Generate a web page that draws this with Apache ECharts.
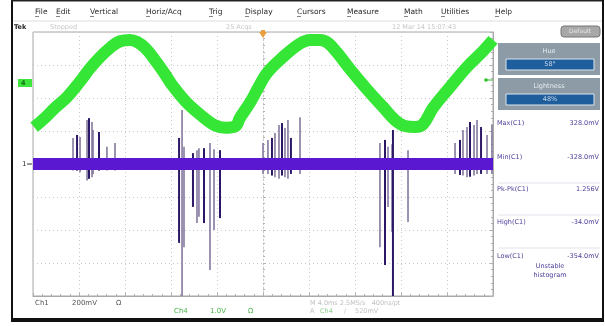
<!DOCTYPE html>
<html><head><meta charset="utf-8">
<script src="https://cdn.jsdelivr.net/npm/echarts@6/dist/echarts.min.js"></script>
<style>html,body{margin:0;padding:0;background:#fff;overflow:hidden}#c{width:605px;height:326px}</style>
</head><body><div id="c"></div>
<script>
// ---- data (time in ms, vertical in divisions) ----
const greenT = [-19.9,-18.96,-18.09,-17.04,-15.91,-15.04,-14.17,-13.3,-12.43,-11.57,-10.96,-10.26,-9.39,-8.52,-7.83,-6.61,-5.48,-4.87,-4.17,-3.30,-2.43,-2.0,-1.13,-0.43,0.35,1.74,3.22,4.09,4.96,5.65,6.43,7.57,9.04,10.43,11.48,12.35,13.22,13.91,14.78,16.26,17.74,19.13,20.0];
const greenY = [1.12,1.40,1.70,2.03,2.50,2.90,3.24,3.52,3.72,3.76,3.70,3.52,3.15,2.72,2.36,1.85,1.50,1.33,1.17,1.10,1.14,1.40,1.86,2.30,2.76,3.24,3.65,3.76,3.76,3.67,3.38,2.87,2.26,1.73,1.33,1.15,1.12,1.20,1.70,2.33,2.94,3.42,3.76];
const baseT = [-20, 20];
const baseY = [0, 0];
const spikeT = [-16.52,-16.17,-15.91,-15.30,-15.13,-14.87,-14.78,-14.26,-13.57,-12.87,
  -7.30,-7.04,-6.87,-6.09,-5.74,-5.57,-5.13,-4.61,-4.26,-3.74,
  0,0.43,0.78,1.04,1.39,1.65,1.91,2.17,2.43,3.22,
  10.17,10.61,10.87,11.22,11.30,12.61,
  16.70,17.13,17.39,17.74,18.0,18.35,18.61,18.96,19.48,19.91];
const spikeTop = [0.79,0.88,0.82,1.33,1.39,1.27,1.03,0.97,0.52,0.64,
  0.79,1.64,0.52,0.33,0.42,0.48,0.48,0.64,0.45,0.42,
  0.64,0.73,0.79,0.94,1.18,1.24,1.09,1.33,0.79,1.42,
  0.64,0.73,0.52,0.60,1.03,0.42,
  0.64,0.73,1.03,1.12,1.27,1.18,1.33,1.12,0.88,1.18];
const spikeBottom = [-0.2,-0.2,-0.25,-0.5,-0.45,-0.4,-0.3,-0.2,-0.2,-0.2,
  -2.39,-4.05,-2.52,-1.3,-1.79,-1.6,-1.79,-3.21,-2.0,-1.64,
  -0.3,-0.3,-0.35,-0.4,-0.45,-0.35,-0.4,-0.45,-0.3,-0.3,
  -2.52,-3.06,-1.3,-2.06,-4.05,-1.76,
  -0.3,-0.33,-0.35,-0.4,-0.39,-0.35,-0.3,-0.3,-0.3,-0.3];
const menuItems = ['File','Edit','Vertical','Horiz/Acq','Trig','Display','Cursors','Measure','Math','Utilities','Help'];
const measureNames = ['Max(C1)','Min(C1)','Pk-Pk(C1)','High(C1)','Low(C1)'];
const measureValues = ['328.0mV','-328.0mV','1.256V','-34.0mV','-354.0mV'];

// ---- layout helpers ----
const FONT = 'DejaVu Sans';
const menuX = [35,56,90,146,209,245,297,347,404,441,495];
const measY = [123,157,189,222,256];
function txt(x, y, s, color, size, extra) {
  return {type:'text', x:x, y:y, z:70,
    style:Object.assign({text:s, fill:color, fontSize:size||7, fontFamily:FONT, verticalAlign:'middle', align:'left'}, extra||{})};
}
const gfx = [];
// outer frame
gfx.push({type:'rect', shape:{x:11,y:0,width:2,height:322}, style:{fill:'#111'}, z:60});
gfx.push({type:'rect', shape:{x:11,y:0,width:593,height:1.5}, style:{fill:'#222'}, z:60});
gfx.push({type:'rect', shape:{x:602,y:0,width:2,height:322}, style:{fill:'#111'}, z:60});
gfx.push({type:'rect', shape:{x:11,y:318,width:593,height:4}, style:{fill:'#111'}, z:60});
// menu
menuItems.forEach((m,i)=>{
  gfx.push(txt(menuX[i], 12, m, '#2a2a2a', 7.5));
  gfx.push({type:'line', shape:{x1:menuX[i],y1:16.5,x2:menuX[i]+4,y2:16.5}, style:{stroke:'#333',lineWidth:0.6}, z:50});
});
gfx.push({type:'line', shape:{x1:13,y1:21,x2:602,y2:21}, style:{stroke:'#ddd',lineWidth:1}, z:40});
// status row
gfx.push(txt(14, 27, 'Tek', '#222', 6.5, {fontWeight:'bold'}));
gfx.push(txt(50, 27, 'Stopped', '#c6c6c6', 6.5));
gfx.push(txt(226, 27, '25 Acqs', '#c6c6c6', 6.5));
gfx.push(txt(392, 27, '12 Mar 14 15:07:43', '#c6c6c6', 6.5));
// trigger position marker
gfx.push({type:'polygon', shape:{points:[[259,32],[267,32],[263,38]]}, style:{fill:'#e8a040'}, z:55});
gfx.push({type:'rect', shape:{x:261,y:30,width:4,height:3}, style:{fill:'#e8a040'}, z:55});
// channel markers
gfx.push({type:'rect', shape:{x:18,y:79,width:14,height:8}, style:{fill:'#3ce63c'}, z:55});
gfx.push(txt(21, 83.5, '4', '#136e13', 6.5, {fontWeight:'bold'}));
gfx.push(txt(22, 164, '1', '#333', 7));
gfx.push({type:'line', shape:{x1:27,y1:164,x2:32,y2:164}, style:{stroke:'#333',lineWidth:1}, z:55});
// trigger level marker
gfx.push({type:'circle', shape:{cx:486,cy:80,r:1.8}, style:{fill:'#2fbf2f'}, z:55});
gfx.push({type:'line', shape:{x1:487,y1:80,x2:493,y2:80}, style:{stroke:'#2fbf2f',lineWidth:1}, z:55});
// right panel
gfx.push({type:'rect', shape:{x:561,y:26,width:39,height:11,r:3}, style:{fill:'#a8a8a8', stroke:'#777', lineWidth:1}, z:50});
gfx.push(txt(580, 31.5, 'Default', '#e6e6e6', 6, {align:'center'}));
gfx.push({type:'rect', shape:{x:498,y:43,width:102,height:32}, style:{fill:'#8c9ba5'}, z:50});
gfx.push(txt(549, 51, 'Hue', '#e8eef2', 6.5, {align:'center'}));
gfx.push({type:'rect', shape:{x:506,y:59,width:88,height:11}, style:{fill:'#1f5e9d', stroke:'#dde6ee', lineWidth:1}, z:51});
gfx.push(txt(550, 64.5, '58°', '#c8d8ea', 6.5, {align:'center'}));
gfx.push({type:'rect', shape:{x:498,y:78,width:102,height:32}, style:{fill:'#8c9ba5'}, z:50});
gfx.push(txt(549, 86, 'Lightness', '#e8eef2', 6.5, {align:'center'}));
gfx.push({type:'rect', shape:{x:506,y:94,width:88,height:11}, style:{fill:'#1f5e9d', stroke:'#dde6ee', lineWidth:1}, z:51});
gfx.push(txt(550, 99.5, '48%', '#c8d8ea', 6.5, {align:'center'}));
measureNames.forEach((n,i)=>{
  gfx.push(txt(497, measY[i], n, '#4b409a', 6.5));
  gfx.push(txt(599, measY[i], measureValues[i], '#4b409a', 6.5, {align:'right'}));
});
[183,215,248].forEach(y=>gfx.push({type:'line', shape:{x1:498,y1:y,x2:600,y2:y}, style:{stroke:'#e4e4ec',lineWidth:1}, z:45}));
gfx.push(txt(550, 266, 'Unstable', '#4b409a', 6.5, {align:'center'}));
gfx.push(txt(550, 275, 'histogram', '#4b409a', 6.5, {align:'center'}));
// bottom readouts
gfx.push(txt(35, 303, 'Ch1', '#555', 7));
gfx.push(txt(72, 303, '200mV', '#555', 7));
gfx.push(txt(116, 303, 'Ω', '#555', 7));
gfx.push(txt(174, 311, 'Ch4', '#49b449', 7));
gfx.push(txt(210, 311, '1.0V', '#49b449', 7));
gfx.push(txt(248, 311, 'Ω', '#49b449', 7));
gfx.push(txt(310, 303, 'M 4.0ms 2.5MS/s   400ns/pt', '#c0c0c0', 6.5));
gfx.push(txt(310, 311, 'A', '#c0c0c0', 6.5));
gfx.push(txt(320, 311, 'Ch4', '#8fd08f', 6.5));
gfx.push(txt(344, 311, '/', '#c0c0c0', 6.5));
gfx.push(txt(355, 311, '520mV', '#c0c0c0', 6.5));

const chart = echarts.init(document.getElementById('c'), null, {renderer:'canvas'});
const dotted = {color:'#c8c8c8', type:[1,3], width:1};
const tickStyle = {color:'#b0b0b0', width:1};
chart.setOption({
  animation:false,
  backgroundColor:'#ffffff',
  grid:{left:33, top:32, width:460, height:264, show:true, borderColor:'#a8a8a8', borderWidth:1, backgroundColor:'#fff'},
  graphic:{elements:gfx},
  xAxis:[
    {type:'value', min:-20, max:20, interval:4, position:'top',
     axisLine:{show:true, onZero:true, lineStyle:dotted},
     axisTick:{show:true, inside:true, length:3, lineStyle:tickStyle},
     minorTick:{show:true, splitNumber:5, length:2, lineStyle:tickStyle},
     axisLabel:{show:false}, splitLine:{show:true, lineStyle:dotted}},
    {type:'value', min:-20, max:20, interval:4, position:'bottom',
     axisLine:{show:true, onZero:false, lineStyle:{color:'#a8a8a8'}},
     axisTick:{show:true, inside:true, length:3, lineStyle:tickStyle},
     minorTick:{show:true, splitNumber:5, length:2, lineStyle:tickStyle},
     axisLabel:{show:false}, splitLine:{show:false}}
  ],
  yAxis:[
    {type:'value', min:-4, max:4, interval:1, position:'left',
     axisLine:{show:true, onZero:true, lineStyle:dotted},
     axisTick:{show:true, inside:true, length:3, lineStyle:tickStyle},
     minorTick:{show:true, splitNumber:5, length:2, lineStyle:tickStyle},
     axisLabel:{show:false}, splitLine:{show:true, lineStyle:dotted}},
    {type:'value', min:-4, max:4, interval:1, position:'right',
     axisLine:{show:true, onZero:false, lineStyle:{color:'#a8a8a8'}},
     axisTick:{show:true, inside:true, length:3, lineStyle:tickStyle},
     minorTick:{show:true, splitNumber:5, length:2, lineStyle:tickStyle},
     axisLabel:{show:false}, splitLine:{show:false}}
  ],
  series:[
    {type:'custom', xAxisIndex:0, yAxisIndex:0, clip:true, z:3,
     data: spikeT.map((t,i)=>[t, spikeTop[i], spikeBottom[i]]),
     encode:{x:0, y:[1,2]},
     renderItem:function(params, api){
       const a = api.coord([api.value(0), api.value(1)]);
       const b = api.coord([api.value(0), api.value(2)]);
       const dark = params.dataIndex % 3 === 1;
       return {type:'line', shape:{x1:a[0], y1:a[1], x2:b[0], y2:b[1]},
               style:{stroke: dark ? '#2c1766' : '#7c6f98', lineWidth: dark ? 2 : 1.5}};
     }},
    {type:'line', xAxisIndex:0, yAxisIndex:0, z:4, showSymbol:false, silent:true,
     data: baseT.map((t,i)=>[t, baseY[i]]),
     lineStyle:{color:'#5a18d0', width:12, cap:'butt'}},
    {type:'line', xAxisIndex:0, yAxisIndex:0, z:5, showSymbol:false, silent:true, smooth:0.4,
     data: greenT.map((t,i)=>[t, greenY[i]]),
     lineStyle:{color:'#36e636', width:12, cap:'butt', join:'round'}}
  ]
});
</script>
</body></html>
